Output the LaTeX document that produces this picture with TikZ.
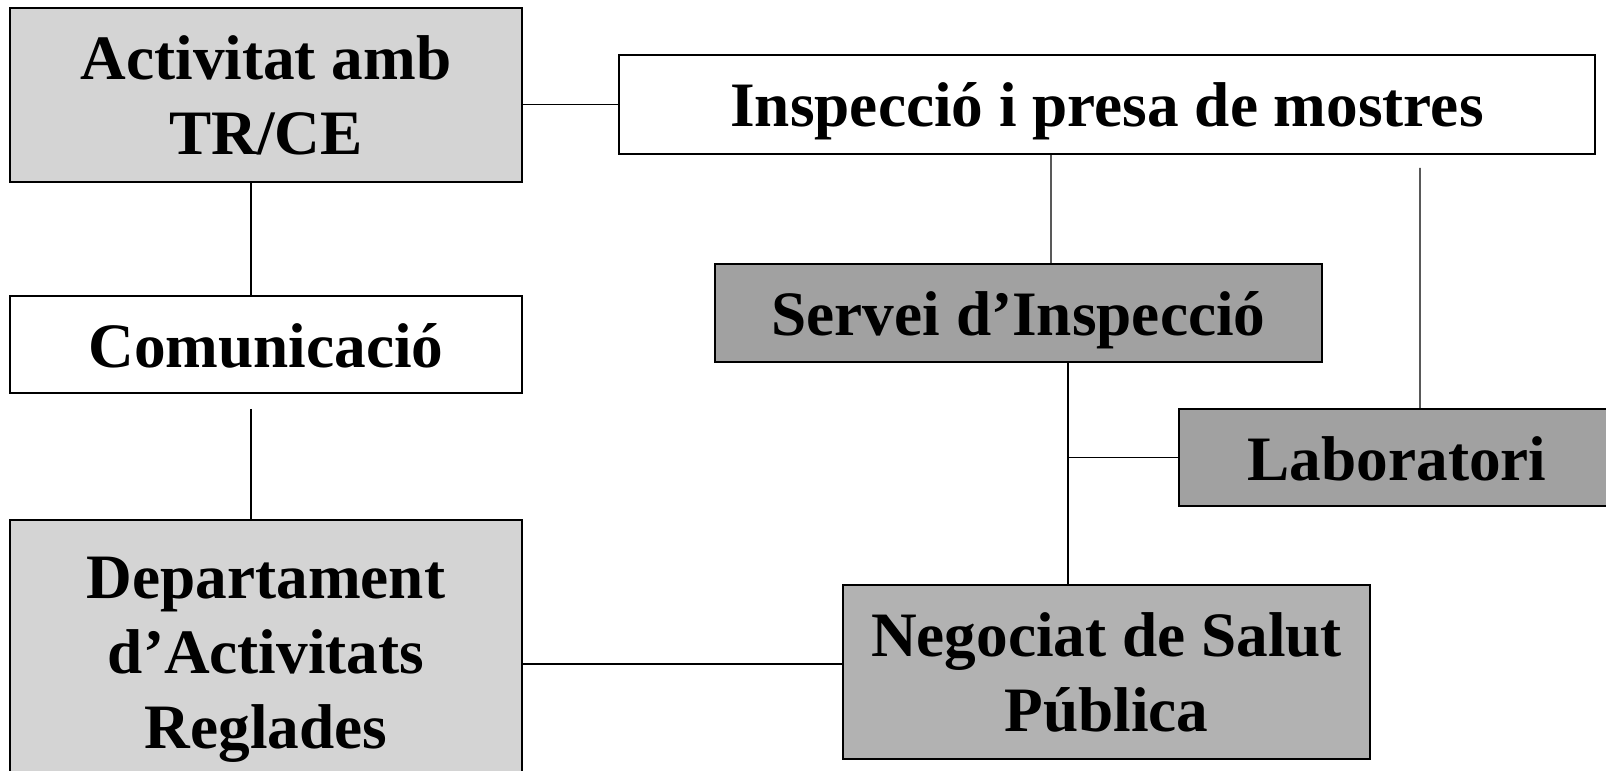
\documentclass[tikz,border=0pt]{standalone}
\usepackage{fontspec}
\setmainfont{Liberation Serif}
\usetikzlibrary{positioning, calc}
\definecolor{lightbox}{gray}{0.83}
\definecolor{midbox}{gray}{0.70}
\definecolor{darkbox}{gray}{0.63}
\tikzstyle{box} = [draw,line width=0.9pt,align=center,inner sep=0pt,font=\bfseries\fontsize{36}{42.7}\selectfont]
\tikzstyle{oneline} = [text height=0.9cm,text depth=0pt]
\tikzstyle{link} = [line width=0.8pt]

\begin{document}
\begin{tikzpicture}
    \useasboundingbox (0,0) rectangle (32.12,15.4);
    % left column
    \node[box,fill=lightbox,minimum width=10.24cm,minimum height=3.48cm](act) at (5.32,13.5) {Activitat amb\\TR/CE};
    \node[box,oneline,fill=white,minimum width=10.24cm,minimum height=1.94cm](com) at (5.32,8.51) {Comunicació};
    \node[box,fill=lightbox,minimum width=10.24cm,minimum height=5.6cm](dep) at (5.32,2.2) {Departament\\d’Activitats\\Reglades};
    % right side
    \node[box,oneline,fill=white,minimum width=19.52cm,minimum height=1.98cm](insp) at (22.14,13.31) {Inspecció i presa de mostres};
    \node[box,oneline,fill=darkbox,minimum width=12.14cm,minimum height=1.96cm](serv) at (20.37,9.14) {Servei d’Inspecció};
    \node[box,oneline,fill=darkbox,minimum width=8.72cm,minimum height=1.94cm](lab) at (27.94,6.25) {Laboratori};
    \node[box,fill=midbox,minimum width=10.54cm,minimum height=3.48cm](neg) at (22.13,1.96) {Negociat de Salut\\Pública};
    \coordinate (spine) at ([xshift=0.99cm]serv.south);
    \draw[link] (act.east |- insp.west) -- (insp.west);
    \draw[link] ([xshift=-3mm]act.south) -- ([xshift=-3mm]com.north);
    \draw[link] ([xshift=-3mm,yshift=-3mm]com.south) -- ([xshift=-3mm]dep.north);
    \draw[link] ([xshift=0.65cm]serv.north) -- ($(serv.north |- insp.south)+(0.65,0)$);
    \draw[link] ([xshift=0.46cm]lab.north) -- ($(lab.north |- insp.south)+(0.46,-0.26)$);
    \draw[link] (spine) -- (spine |- neg.north);
    \draw[link] (lab.west) -- (lab.west -| spine);
    \draw[link] ([yshift=0.16cm]dep.east |- neg.west) -- ([yshift=0.16cm]neg.west);
\end{tikzpicture}
\end{document}
